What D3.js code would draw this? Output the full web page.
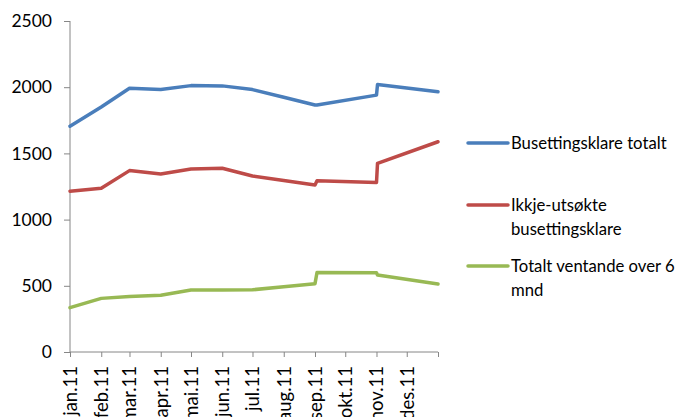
<!DOCTYPE html>
<html><head><meta charset="utf-8">
<script src="https://cdn.jsdelivr.net/npm/d3@7"></script>
<style>body{margin:0;background:#fff}svg{display:block}</style>
</head><body><svg id="c" width="697" height="417"></svg>
<script>
const tickLabels = ["jan.11","feb.11","mar.11","apr.11","mai.11","jun.11","jul.11","aug.11","sep.11","okt.11","nov.11","des.11"];
const dates = ["2011-01-01","2011-02-01","2011-03-01","2011-04-01","2011-05-01","2011-06-01","2011-07-01","2011-08-01","2011-09-01","2011-09-03","2011-11-01","2011-11-02","2012-01-01"];
const seriesNames = ["Busettingsklare totalt","Ikkje-utsøkte busettingsklare","Totalt ventande over 6 mnd"];
const totalt   = [1705,1850,1992,1982,2012,2010,1982,1924,1866,1866,1940,2020,1966];
const ikkje    = [1215,1236,1370,1344,1382,1388,1329,1296,1262,1294,1280,1424,1588];
const ventande = [335,405,420,428,468,468,470,493,516,600,598,582,514];
const colors = ["#4A7EBB","#BE4B48","#98B954"];
const yTicks = [0,500,1000,1500,2000,2500];

const FONT = "Lato, 'Open Sans', sans-serif";
const svg = d3.select("#c");
const parse = d3.utcParse("%Y-%m-%d");
const x = d3.scaleUtc().domain([parse("2011-01-01"), parse("2012-01-01")]).range([70,438]);
const y = d3.scaleLinear().domain([0,2500]).range([352,21]);
const axisColor = "#868686";

const ya = svg.append("g").attr("transform","translate(70,0)")
  .call(d3.axisLeft(y).tickValues(yTicks).tickSize(6).tickPadding(12).tickFormat(d3.format("d")));
ya.selectAll("path,line").attr("stroke",axisColor);
ya.select(".domain").attr("d","M0,21V352");
ya.selectAll("text").style("font-size","17.5px").style("font-family",FONT).attr("fill","#000");

const monthTicks = d3.utcMonth.range(parse("2011-01-01"), parse("2012-01-02"));
const xa = svg.append("g").attr("transform","translate(0,352)")
  .call(d3.axisBottom(x).tickValues(monthTicks).tickSize(5).tickFormat((d,i)=> tickLabels[i] || ""));
xa.selectAll("path,line").attr("stroke",axisColor);
xa.select(".domain").attr("d","M70,0H438");
xa.selectAll("text").style("font-size","18.5px").style("font-family",FONT).attr("fill","#000")
  .attr("transform","rotate(-90)").attr("text-anchor","end").attr("dy","0.35em").attr("x",-14).attr("y",0);

const all = [totalt, ikkje, ventande];
const line = d3.line().x((d,i)=>x(parse(dates[i]))).y(d=>y(d));
all.forEach((s,k)=>{
  svg.append("path").datum(s).attr("d",line).attr("fill","none")
    .attr("stroke",colors[k]).attr("stroke-width",3.5).attr("stroke-linejoin","round").attr("stroke-linecap","round");
});

const legend = [
  {y:143, lines:["Busettingsklare totalt"]},
  {y:205, lines:["Ikkje-utsøkte","busettingsklare"]},
  {y:266, lines:["Totalt ventande over 6","mnd"]}
];
legend.forEach((l,k)=>{
  svg.append("line").attr("x1",468).attr("x2",508).attr("y1",l.y).attr("y2",l.y)
    .attr("stroke",colors[k]).attr("stroke-width",3.5).attr("stroke-linecap","round");
  const t = svg.append("text").attr("x",511).attr("y",l.y).style("font-size","16.7px").style("font-family",FONT).attr("fill","#000");
  l.lines.forEach((s,j)=> t.append("tspan").attr("x",511).attr("dy", j===0 ? "0.35em" : "24px").text(s));
});
</script></body></html>
